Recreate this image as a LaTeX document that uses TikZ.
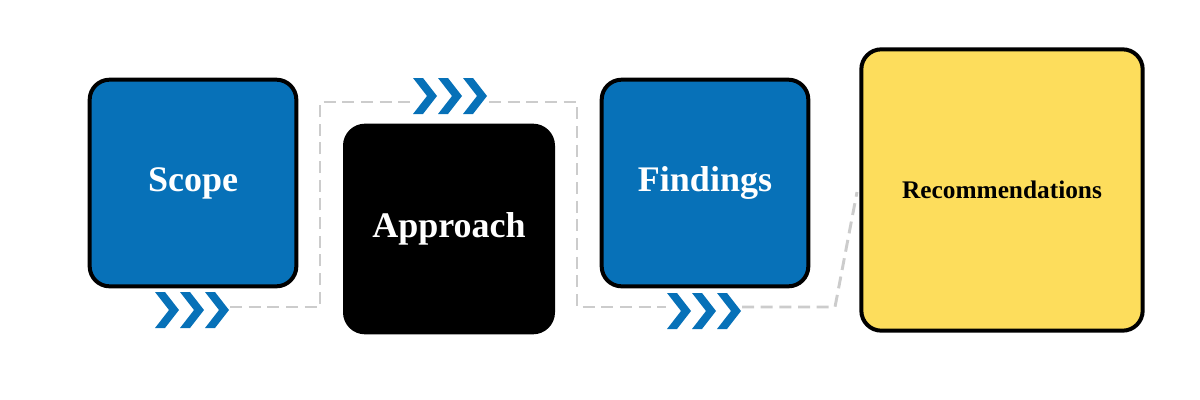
\documentclass[tikz,border=0pt]{standalone}
\usepackage{fontspec}
\setmainfont{Liberation Serif}
\definecolor{cblue}{HTML}{0771B8}
\definecolor{cyel}{HTML}{FDDD5C}
\definecolor{cgray}{HTML}{CCCCCC}
\begin{document}
\begin{tikzpicture}[x=0.75pt,y=-0.75pt,
  box/.style={draw=black,line width=3pt,rounded corners=15pt,inner sep=0pt},
  dline/.style={draw=cgray,line width=2.2pt,dash pattern=on 9pt off 5pt},
  chev/.pic={\fill[cblue] (0,-18)--(10,-18)--(24,0)--(10,18)--(0,18)--(14,0)--cycle;}]
\useasboundingbox (0,0) rectangle (1200,400);
\node[box,fill=cblue,minimum width=155pt,minimum height=155pt,text=white,font=\bfseries\fontsize{27}{30}\selectfont] (scope) at (193,183) {Scope};
\node[box,fill=black,minimum width=156pt,minimum height=155pt,text=white,font=\bfseries\fontsize{27}{30}\selectfont] (appr) at (449,229) {Approach};
\node[box,fill=cblue,minimum width=155pt,minimum height=155pt,text=white,font=\bfseries\fontsize{27}{30}\selectfont] (find) at (705,183) {Findings};
\node[box,fill=cyel,minimum width=211pt,minimum height=211pt,text=black,font=\bfseries\fontsize{19}{22}\selectfont] (rec) at (1002,190) {Recommendations};
\foreach \x in {155,180,205} \pic at (\x,310) {chev};
\foreach \x in {413,438,463} \pic at (\x,96) {chev};
\foreach \x in {667,692,717} \pic at (\x,311) {chev};
\coordinate (a1) at (230,307);
\coordinate (a2) at (412,102);
\coordinate (b1) at (489,102);
\coordinate (b2) at (666,307);
\coordinate (c1) at (742,307);
\coordinate (c2) at (857,192);
\draw[dline] (a1) -- (320,307) -- (320,102) -- (a2);
\draw[dline] (b1) -- (577,102) -- (577,307) -- (b2);
\draw[dline] (c1) -- (835,307) -- (c2);
\end{tikzpicture}
\end{document}
